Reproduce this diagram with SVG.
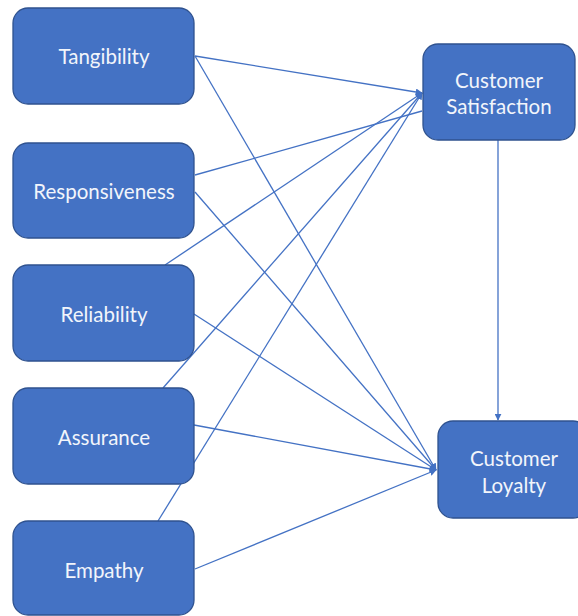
<svg xmlns="http://www.w3.org/2000/svg" width="578" height="616" viewBox="0 0 578 616">
<style>
.box{fill:#4472C4;stroke:#2F528F;stroke-width:1.3}
.lbl{font-family:Lato,"Open Sans","Liberation Sans",sans-serif;font-size:20.5px;fill:#F2F5FB;text-anchor:middle;dominant-baseline:central}
.c{stroke:#4472C4;stroke-width:1.3;fill:none}
</style>
<defs>
<marker id="ah" viewBox="0 0 10 10" refX="9" refY="5" markerWidth="7" markerHeight="7" markerUnits="userSpaceOnUse" orient="auto">
<path d="M0,0 L10,5 L0,10 z" fill="#4472C4"/>
</marker>
</defs>
<rect width="578" height="616" fill="#FFFFFF"/>
<g id="connectors">
<line class="c" x1="195" y1="56" x2="422" y2="93" marker-end="url(#ah)"/>
<line class="c" x1="195" y1="56" x2="436" y2="470" marker-end="url(#ah)"/>
<line class="c" x1="195" y1="175" x2="422" y2="111"/>
<line class="c" x1="195" y1="192" x2="436" y2="470" marker-end="url(#ah)"/>
<line class="c" x1="165" y1="265" x2="422" y2="93" marker-end="url(#ah)"/>
<line class="c" x1="194" y1="314" x2="436" y2="470" marker-end="url(#ah)"/>
<line class="c" x1="163" y1="388" x2="422" y2="93" marker-end="url(#ah)"/>
<line class="c" x1="194" y1="425" x2="436" y2="470" marker-end="url(#ah)"/>
<line class="c" x1="158" y1="521" x2="422" y2="93" marker-end="url(#ah)"/>
<line class="c" x1="195" y1="569" x2="436" y2="470" marker-end="url(#ah)"/>
<line class="c" x1="498" y1="140" x2="498" y2="420" marker-end="url(#ah)"/>
</g>
<g id="tangibility"><rect class="box" x="13" y="8" width="181" height="96" rx="15"/><text class="lbl" x="104" y="56">Tangibility</text></g>
<g id="responsiveness"><rect class="box" x="13" y="143" width="181" height="95" rx="15"/><text class="lbl" x="104" y="191">Responsiveness</text></g>
<g id="reliability"><rect class="box" x="13" y="265" width="181" height="96" rx="15"/><text class="lbl" x="104" y="314">Reliability</text></g>
<g id="assurance"><rect class="box" x="13" y="388" width="181" height="96" rx="15"/><text class="lbl" x="104" y="437">Assurance</text></g>
<g id="empathy"><rect class="box" x="13" y="521" width="181" height="94" rx="15"/><text class="lbl" x="104" y="570">Empathy</text></g>
<g id="customer-satisfaction"><rect class="box" x="423" y="44" width="152" height="96" rx="15"/><text class="lbl" x="499" y="80">Customer</text><text class="lbl" x="499" y="106">Satisfaction</text></g>
<g id="customer-loyalty"><rect class="box" x="438" y="421" width="150" height="97" rx="15"/><text class="lbl" x="514" y="458">Customer</text><text class="lbl" x="514" y="485">Loyalty</text></g>
</svg>
